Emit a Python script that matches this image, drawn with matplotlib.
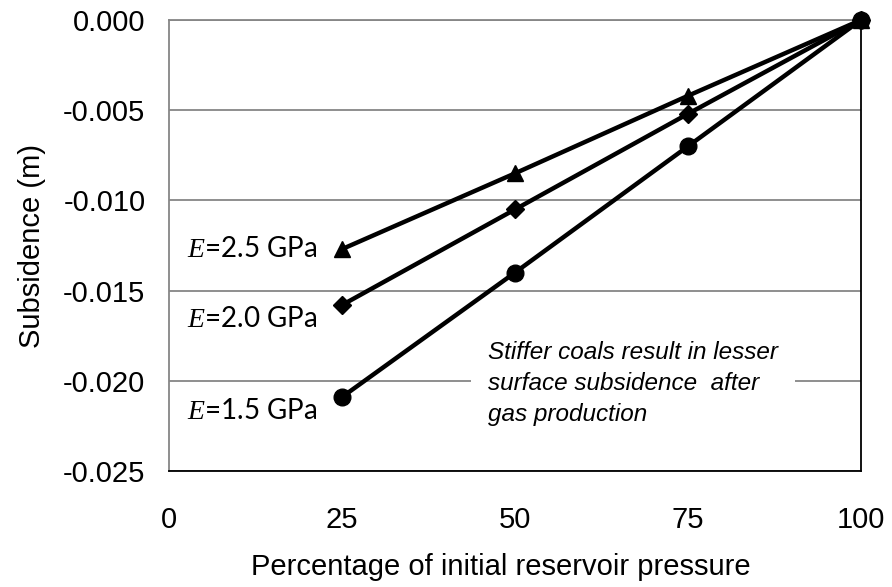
import matplotlib
matplotlib.use("Agg")
import matplotlib.pyplot as plt
from matplotlib import font_manager

# data
pressure_pct = [25, 50, 75, 100]
subsidence_e25 = [-0.0127, -0.0085, -0.0042, 0.0]
subsidence_e20 = [-0.0158, -0.0105, -0.0052, 0.0]
subsidence_e15 = [-0.0209, -0.0140, -0.0070, 0.0]
modulus_labels = ["2.5", "2.0", "1.5"]
x_ticks = [0, 25, 50, 75, 100]
y_ticks = [0.000, -0.005, -0.010, -0.015, -0.020, -0.025]
note_text = "Stiffer coals result in lesser\nsurface subsidence  after\ngas production"

plt.rcParams['font.family'] = 'Liberation Sans'
plt.rcParams['mathtext.fontset'] = 'custom'
plt.rcParams['mathtext.it'] = 'Liberation Serif:italic'
plt.rcParams['mathtext.rm'] = 'Lato'

installed = {f.name for f in font_manager.fontManager.ttflist}
if 'Liberation Sans Narrow' in installed:
    note_family, note_size = 'Liberation Sans Narrow', 20
else:
    note_family, note_size = 'Liberation Sans', 17.5

fig = plt.figure(figsize=(8.92, 5.87), dpi=100)
ax = fig.add_axes([0.1895, 0.1976, 0.7757, 0.7683])

series = [(subsidence_e25, '^', 12), (subsidence_e20, 'D', 9), (subsidence_e15, 'o', 12)]
for values, marker, ms in series:
    ax.plot(pressure_pct, values, color='black', lw=3.2, marker=marker,
            markersize=ms, clip_on=False, zorder=3)

# series labels next to the first point of each line
label_offsets = [(-18, 0), (-18, -10), (-18, -10)]
for values, lab, off in zip([subsidence_e25, subsidence_e20, subsidence_e15],
                            modulus_labels, label_offsets):
    ax.annotate(r"$\mathit{E}$=" + lab + " GPa", xy=(pressure_pct[0], values[0]),
                xytext=off, textcoords='offset points', ha='right', va='center',
                fontsize=20, family='Lato')

ax.text(0.461, 0.288, note_text, transform=ax.transAxes, ha='left', va='top',
        fontsize=note_size, family=note_family, style='italic', linespacing=1.45,
        bbox=dict(facecolor='white', edgecolor='none', pad=12), zorder=4)

ax.set_xlim(0, 100)
ax.set_ylim(-0.025, 0.0)
ax.set_xticks(x_ticks)
ax.set_yticks(y_ticks)
ax.set_yticklabels([f"{v:.3f}" for v in y_ticks])
ax.tick_params(length=0, labelsize=21)
ax.tick_params(axis='y', pad=17)
ax.tick_params(axis='x', pad=25)
ax.grid(axis='y', color='#868686', lw=1.3, zorder=1)
ax.set_axisbelow(True)

ax.spines['left'].set_color('#868686')
ax.spines['top'].set_color('#868686')
for side in ['left', 'top', 'right', 'bottom']:
    ax.spines[side].set_linewidth(1.3)

ax.set_xlabel('Percentage of initial reservoir pressure', fontsize=21, labelpad=14, x=0.48)
ax.set_ylabel('Subsidence (m)', fontsize=21, labelpad=12)

plt.savefig('out.png', dpi=100)
